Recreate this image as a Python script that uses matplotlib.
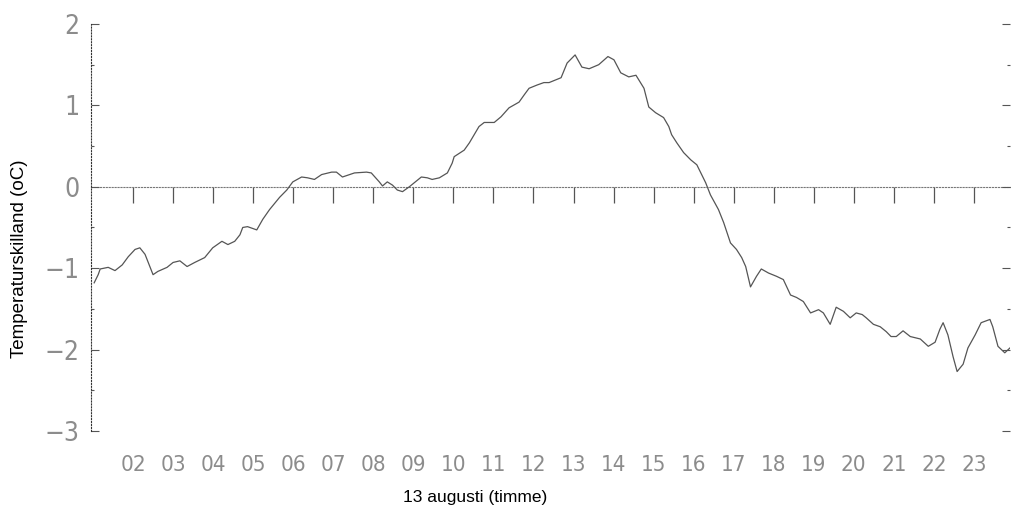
import matplotlib
matplotlib.use('Agg')
import matplotlib.pyplot as plt
from matplotlib.ticker import MultipleLocator
from matplotlib.font_manager import FontProperties
import numpy as np

# hour of day (13 Aug) and temperature difference (oC)
hours = [1.03, 1.13, 1.18, 1.38, 1.55, 1.73, 1.88, 2.05, 2.17, 2.30,
         2.42, 2.50, 2.62, 2.85, 3.00, 3.17, 3.35, 3.54, 3.79, 3.99,
         4.22, 4.37, 4.54, 4.67, 4.74, 4.86, 5.09, 5.24, 5.41, 5.66,
         5.84, 5.99, 6.21, 6.36, 6.53, 6.71, 6.96, 7.08, 7.23, 7.53,
         7.83, 7.95, 8.15, 8.23, 8.35, 8.48, 8.60, 8.73, 8.90, 9.20,
         9.35, 9.47, 9.65, 9.85, 9.97, 10.02, 10.27, 10.40, 10.52, 10.64,
         10.77, 11.02, 11.19, 11.39, 11.64, 11.77, 11.89, 12.09, 12.26, 12.39,
         12.69, 12.84, 13.04, 13.21, 13.39, 13.63, 13.86, 14.01, 14.18, 14.38,
         14.56, 14.76, 14.88, 15.05, 15.25, 15.38, 15.45, 15.58, 15.75, 15.93,
         16.08, 16.18, 16.30, 16.42, 16.62, 16.75, 16.92, 17.07, 17.20, 17.30,
         17.42, 17.57, 17.69, 17.87, 18.07, 18.24, 18.42, 18.57, 18.74, 18.92,
         19.12, 19.24, 19.41, 19.56, 19.74, 19.91, 20.06, 20.21, 20.31, 20.49,
         20.66, 20.81, 20.93, 21.06, 21.23, 21.41, 21.66, 21.86, 22.03, 22.15,
         22.23, 22.35, 22.48, 22.58, 22.73, 22.85, 23.03, 23.18, 23.40, 23.47,
         23.60, 23.77, 23.90]
temp_diff = [-1.18, -1.08, -1.01, -0.99, -1.03, -0.96, -0.86, -0.77, -0.75, -0.83,
             -0.98, -1.08, -1.04, -0.99, -0.93, -0.91, -0.98, -0.93, -0.87, -0.75,
             -0.67, -0.71, -0.67, -0.59, -0.50, -0.49, -0.53, -0.40, -0.28, -0.13,
             -0.04, 0.06, 0.12, 0.11, 0.09, 0.15, 0.18, 0.18, 0.12, 0.17,
             0.18, 0.17, 0.06, 0.01, 0.06, 0.02, -0.04, -0.06, 0.00, 0.12,
             0.11, 0.09, 0.11, 0.17, 0.29, 0.37, 0.45, 0.54, 0.64, 0.74,
             0.79, 0.79, 0.86, 0.97, 1.04, 1.13, 1.21, 1.25, 1.28, 1.28,
             1.34, 1.52, 1.62, 1.47, 1.45, 1.50, 1.60, 1.56, 1.40, 1.35,
             1.37, 1.21, 0.98, 0.91, 0.85, 0.74, 0.64, 0.54, 0.42, 0.33,
             0.27, 0.17, 0.05, -0.10, -0.28, -0.44, -0.69, -0.77, -0.87, -0.98,
             -1.23, -1.10, -1.01, -1.06, -1.10, -1.14, -1.33, -1.36, -1.41, -1.55,
             -1.51, -1.55, -1.69, -1.48, -1.53, -1.61, -1.55, -1.57, -1.61, -1.69,
             -1.72, -1.78, -1.84, -1.84, -1.77, -1.84, -1.87, -1.96, -1.91, -1.75,
             -1.67, -1.82, -2.09, -2.27, -2.18, -1.98, -1.82, -1.67, -1.63, -1.72,
             -1.96, -2.04, -1.98]

tick_hours = list(range(2, 24))
tick_labels = ['%02d' % h for h in tick_hours]
y_ticks = [2, 1, 0, -1, -2, -3]

fig = plt.figure(figsize=(10.12, 5.07), dpi=100)
ax = fig.add_axes([0.0899, 0.150, 0.9081, 0.8027])

ax.plot(hours, temp_diff, color='#555555', lw=0.9)

ax.set_xlim(0.95, 23.9)
ax.set_ylim(-3, 2)

lblfont = dict(family='DejaVu Sans', stretch='condensed', weight='light')

# y axis: dotted left spine, ticks in on both sides
for s in ['top', 'right', 'bottom']:
    ax.spines[s].set_visible(False)
ax.spines['left'].set_linestyle(':')
ax.spines['left'].set_color('#333333')
ax.set_yticks(y_ticks)
ax.yaxis.set_minor_locator(MultipleLocator(0.5))
ax.tick_params(axis='y', which='both', direction='in', left=True, right=True,
               color='#555555', width=0.8)
ax.tick_params(axis='y', which='major', length=6, pad=8, labelcolor='#8c8c8c')
ax.tick_params(axis='y', which='minor', length=2)
for t in ax.get_yticklabels():
    t.set_fontproperties(FontProperties(**lblfont, size=19))

# x labels at the bottom, no tick marks there
ax.set_xticks(tick_hours)
ax.set_xticklabels(tick_labels)
ax.tick_params(axis='x', length=0, pad=17, labelcolor='#8c8c8c')
for t in ax.get_xticklabels():
    t.set_fontproperties(FontProperties(**lblfont, size=16))

# tick marks hanging from the zero line
zero = ax.secondary_xaxis(0.6)
zero.set_xticks(tick_hours)
zero.set_xticklabels([])
zero.tick_params(axis='x', direction='in', length=11.5, width=0.9, color='#555555')
for sp in zero.spines.values():
    sp.set_linestyle(':')
    sp.set_color('#777777')

ax.set_ylabel('Temperaturskilland (oC)', family='Liberation Sans', fontsize=13.5)
ax.yaxis.set_label_coords(-0.068, 0.423)
ax.set_xlabel('13 augusti (timme)', family='Liberation Sans', fontsize=12.5)
ax.xaxis.set_label_coords(0.418, -0.145)

fig.savefig('out.png', dpi=100)
